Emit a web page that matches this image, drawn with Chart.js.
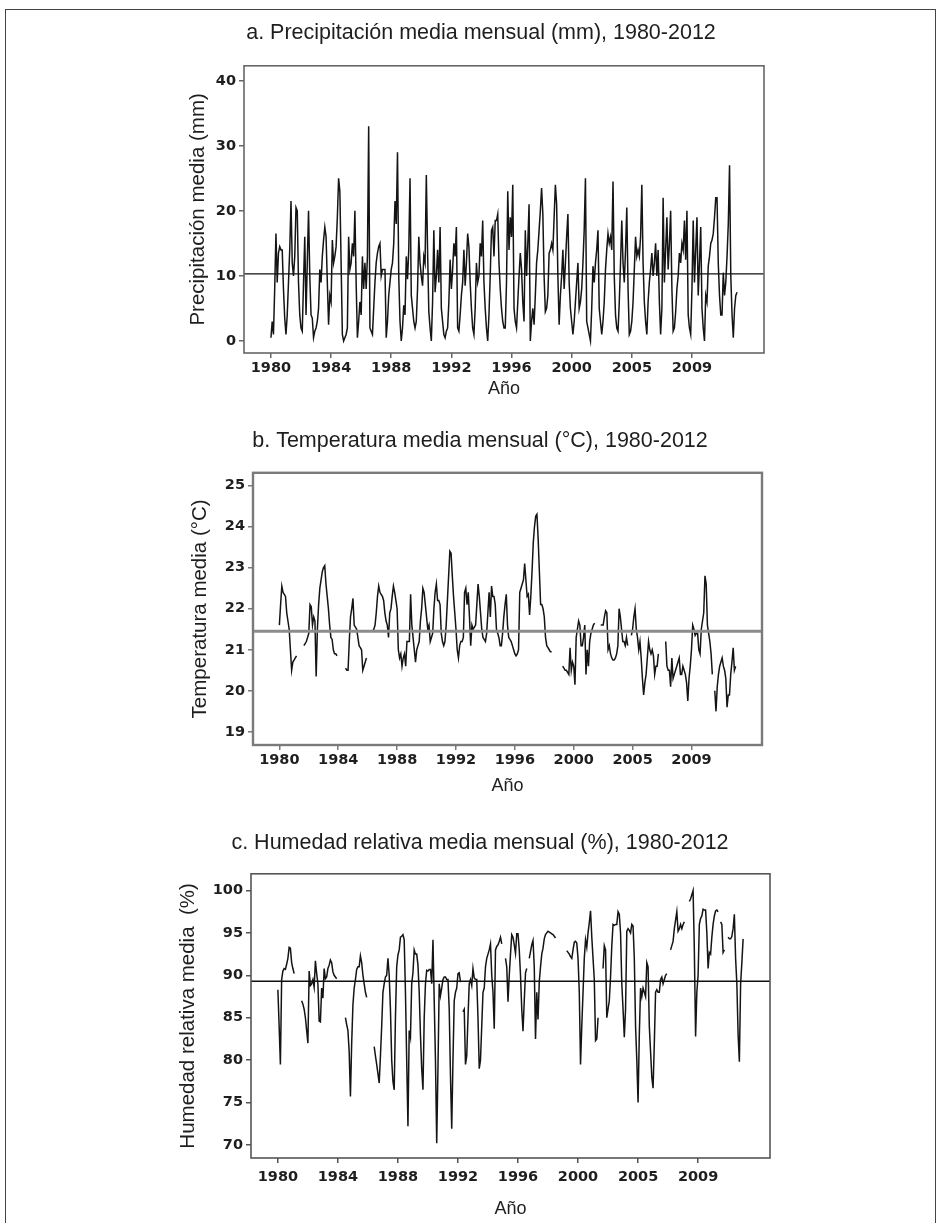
<!DOCTYPE html>
<html lang="es">
<head>
<meta charset="utf-8">
<title>Precipitación, temperatura y humedad relativa mensual, 1980-2012</title>
<script src="https://cdn.jsdelivr.net/npm/chart.js@4.4.1/dist/chart.umd.min.js"></script>
<style>
  html, body { margin: 0; padding: 0; background: #fff; overflow: hidden; }
  #page { position: relative; width: 942px; height: 1223px; overflow: hidden; }
  #border { position: absolute; left: 5px; top: 9px; width: 929px; height: 1240px; border: 1px solid #444; }
  canvas { position: absolute; left: 0; }
</style>
</head>
<body>
<div id="page">
  <div id="border"></div>
  <canvas id="chart-a" width="960" height="405" style="top:0px"></canvas>
  <canvas id="chart-b" width="960" height="410" style="top:405px"></canvas>
  <canvas id="chart-c" width="960" height="408" style="top:815px"></canvas>
</div>
<script>
// monthly series, one value per month from Jan 1980 (rows of 12), null = missing
const PRECIP = [
  0.5, 3.0, 1.0, 8.0, 16.5, 9.0, 13.5, 14.5, 14.0, 14.0, 8.0, 3.5,
  1.0, 4.0, 9.0, 14.0, 21.5, 12.0, 10.0, 13.0, 20.5, 20.0, 9.0, 4.0,
  2.0, 1.5, 9.0, 16.0, 4.0, 12.0, 20.0, 10.0, 4.0, 3.5, 0.5, 1.5,
  2.0, 3.0, 5.0, 11.0, 9.0, 13.0, 15.5, 17.5, 16.0, 9.0, 2.5, 7.0,
  6.0, 15.5, 12.0, 13.0, 14.5, 19.0, 25.0, 23.0, 12.0, 1.0, 0.0, 0.5,
  1.0, 2.0, 16.0, 11.0, 12.0, 15.0, 13.0, 20.0, 9.0, 0.5, 3.0, 6.0,
  4.0, 13.0, 8.0, 12.0, 8.0, 13.0, 33.0, 2.0, 1.5, 1.0, 5.0, 9.0,
  12.0, 13.5, 14.5, 15.0, 10.0, 11.0, 11.0, 11.0, 0.5, 3.0, 7.0, 9.0,
  11.0, 12.0, 15.0, 21.5, 18.0, 29.0, 10.0, 3.0, 0.0, 2.0, 5.5, 4.0,
  13.0, 9.5, 14.0, 25.0, 7.0, 5.0, 3.0, 2.0, 3.0, 8.0, 16.0, 12.0,
  10.0, 8.5, 13.0, 12.0, 25.5, 14.0, 4.5, 2.0, 0.0, 6.0, 17.0, 7.5,
  10.0, 14.0, 9.0, 17.5, 5.0, 3.0, 1.0, 0.5, 1.5, 2.0, 6.0, 12.5,
  8.0, 11.0, 15.0, 13.0, 17.5, 2.0, 1.5, 4.0, 7.0, 9.0, 14.0, 8.5,
  12.0, 16.5, 14.5, 9.0, 5.0, 2.0, 1.0, 5.0, 12.0, 9.0, 10.0, 15.0,
  13.0, 18.5, 9.0, 5.0, 2.0, 0.0, 4.0, 10.0, 17.0, 17.5, 13.0, 18.5,
  18.5, 19.5, 12.0, 8.0, 5.0, 3.0, 2.0, 2.0, 9.0, 23.0, 14.0, 19.0,
  16.0, 24.0, 5.0, 3.0, 2.0, 6.0, 10.0, 13.5, 11.0, 6.0, 3.0, 17.0,
  10.0, 15.0, 21.0, 0.0, 3.0, 5.0, 2.5, 7.0, 12.0, 14.0, 17.0, 20.0,
  23.5, 19.5, 10.0, 4.5, 5.0, 7.0, 13.5, 14.0, 15.0, 14.0, 19.0, 24.0,
  21.0, 10.0, 2.5, 7.0, 10.0, 14.0, 8.0, 12.0, 16.0, 19.5, 9.0, 5.0,
  3.0, 1.0, 3.0, 6.0, 9.0, 12.0, 5.0, 6.0, 8.0, 12.0, 17.0, 25.0,
  3.0, 2.0, 1.0, 0.0, 5.0, 11.5, 9.0, 12.0, 14.0, 17.0, 5.0, 3.0,
  1.0, 3.0, 6.0, 11.0, 14.0, 16.5, 15.0, 16.0, 14.0, 24.5, 10.0, 4.0,
  2.0, 1.5, 6.0, 12.0, 18.5, 12.0, 9.0, 14.0, 20.5, 8.0, 1.0, 1.5,
  3.0, 6.0, 11.0, 16.0, 13.0, 14.0, 13.0, 16.0, 24.0, 12.0, 6.0, 3.0,
  1.0, 6.0, 9.0, 11.0, 13.5, 10.0, 12.0, 15.0, 10.0, 14.0, 6.0, 1.0,
  5.0, 22.0, 9.0, 14.0, 19.0, 11.0, 15.0, 20.0, 8.0, 1.5, 2.0, 4.5,
  8.0, 10.0, 13.5, 12.0, 15.0, 14.0, 18.5, 12.5, 20.0, 4.0, 2.0, 1.0,
  8.0, 18.5, 9.0, 14.0, 19.0, 7.0, 12.0, 17.5, 5.0, 2.0, 0.0, 7.0,
  6.0, 11.5, 13.0, 15.0, 15.5, 16.5, 19.0, 22.0, 22.0, 12.0, 7.0, 4.0,
  4.0, 10.5, 7.0, 9.0, 13.0, 18.0, 27.0, 10.0, 4.0, 0.5, 5.0, 7.0,
  7.5
];

const TEMP = [
  21.6, 22.1, 22.55, 22.4, 22.35, 22.3, 21.9, 21.7, 21.5, 21.0, 20.5, 20.7,
  20.75, 20.8, 20.85, null, null, null, null, null, 21.1, 21.15, 21.2, 21.3,
  21.4, 22.1, 22.05, 21.6, 21.8, 21.7, 20.35, 21.5, 22.1, 22.5, 22.7, 22.9,
  23.0, 23.05, 22.6, 22.3, 22.0, 21.6, 21.3, 21.25, 21.0, 20.9, 20.9, 20.85,
  null, null, null, null, null, null, 20.55, 20.5, 20.5, 21.2, 21.8, 22.0,
  22.25, 21.6, 21.55, 21.5, 21.3, 21.1, 21.05, 21.0, 20.5, 20.6, 20.7, 20.8,
  null, null, null, null, 21.45, 21.5, 21.6, 21.9, 22.3, 22.55, 22.4, 22.35,
  22.3, 22.2, 21.9, 21.7, 21.6, 21.3, 21.9, 22.0, 22.3, 22.55, 22.4, 22.2,
  22.0, 21.0, 20.8, 20.9, 20.6, 20.8, 20.9, 20.6, 21.2, 21.2, 21.2, 22.35,
  21.6, 21.3, 21.0, 20.7, 21.0, 21.1, 21.2, 21.7, 22.0, 22.5, 22.4, 22.1,
  21.8, 21.5, 21.6, 21.2, 21.3, 21.4, 22.0, 22.4, 22.6, 22.2, 22.2, 22.1,
  21.4, 21.2, 21.1, 21.2, 21.6, 22.2, 22.8, 23.4, 23.35, 22.8, 22.3, 21.9,
  21.5, 21.0, 20.8, 21.1, 21.2, 21.2, 21.3, 22.4, 22.5, 22.1, 22.4, 21.8,
  21.1, 21.6, 21.5, 21.55, 21.6, 22.1, 22.6, 22.3, 21.9, 21.5, 21.3, 21.25,
  21.2, 21.4, 21.9, 22.4, 21.8, 22.55, 22.3, 22.3, 22.1, 21.5, 21.4, 21.3,
  21.1, 21.1, 21.4, 21.8, 22.1, 22.35, 21.6, 21.3, 21.25, 21.2, 21.1, 21.0,
  20.9, 20.85, 20.9, 21.0, 22.4, 22.5, 22.6, 22.7, 23.1, 22.7, 22.3, 22.35,
  21.85, 22.3, 22.9, 23.6, 24.0, 24.25, 24.3, 23.7, 22.9, 22.1, 22.1, 22.0,
  21.8, 21.3, 21.1, 21.05, 21.0, 20.95, 20.95, null, null, null, null, null,
  null, null, null, 20.6, 20.55, 20.5, 20.5, 20.45, 20.4, 21.05, 20.5, 20.7,
  20.6, 20.15, 21.3, 21.5, 21.7, 21.6, 21.1, 21.1, 21.3, 21.6, 20.4, 21.0,
  20.6, 21.2, 21.4, 21.5, 21.6, 21.65, null, null, null, null, 21.6, 21.6,
  21.6, 21.8, 21.95, 21.9, 21.0, 21.1, 20.9, 20.8, 20.75, 20.75, 20.8, 20.9,
  21.1, 22.0, 21.8, 21.5, 21.2, 21.2, 21.1, 21.3, 21.1, null, null, 21.35,
  21.5, 21.8, 22.0, 21.5, 21.3, 21.0, 21.2, 20.8, 20.3, 19.9, 20.2, 20.4,
  20.8, 21.2, 21.0, 20.9, 21.0, 20.85, 20.4, 20.6, 20.6, 20.9, null, null,
  null, null, null, 21.2, 20.6, 20.5, 20.5, 20.1, 20.8, 20.3, 20.4, 20.5,
  20.6, 20.7, 20.8, 20.4, 20.4, 20.6, 20.5, 20.4, 20.2, 19.75, 20.3, 20.6,
  21.0, 21.6, 21.5, 21.35, 21.4, 21.4, 21.0, 20.9, 21.5, 21.7, 21.9, 22.8,
  22.6, 21.6, 21.4, 21.2, 20.9, 20.4, null, 20.0, 19.5, 20.1, 20.4, 20.6,
  20.7, 20.8, 20.6, 20.5, 20.3, 19.6, 19.9, 19.9, 20.4, 20.7, 21.05, 20.5,
  20.6
];

const HUMID = [
  88.3, 84.0, 79.5, 89.5, 90.5, 90.8, 90.7, 91.3, 92.0, 93.3, 93.2, 91.5,
  90.8, 90.2, null, null, null, null, null, 87.0, 86.6, 86.0, 85.0, 83.5,
  82.0, 90.5, 88.8, 89.0, 89.5, 88.6, 91.7, 90.2, 89.0, 84.6, 84.5, 88.5,
  87.3, 90.8, 89.6, 89.8, 90.8, 91.2, 91.8, 91.5, 90.4, 90.0, 89.8, 89.6,
  null, null, null, null, null, null, 85.0, 84.2, 83.5, 81.0, 75.7, 82.0,
  86.5, 88.5, 89.5, 90.7, 91.0, 91.0, 92.3, 91.5, 90.0, 89.0, 88.0, 87.4,
  null, null, null, null, null, 81.6, 80.5, 79.5, 78.4, 77.3, 80.5, 84.0,
  88.0, 89.0, 89.8, 90.0, 92.0, 90.0, 86.0, 80.0, 77.5, 76.5, 85.0, 91.0,
  92.4, 93.0, 94.5, 94.6, 94.8, 94.2, 88.0, 80.0, 72.2, 83.5, 82.7, 89.0,
  90.3, 93.0, 92.5, 92.5, 91.2, 88.0, 83.0, 79.0, 76.5, 85.0, 89.0, 90.6,
  90.5, 90.7, 90.7, 89.0, 94.2, 87.0, 80.0, 70.2, 79.0, 89.0, 87.6, 88.5,
  89.5, 89.8, 89.8, 89.5, 89.5, 86.0, 78.2, 71.9, 80.0, 87.0, 88.0, 88.5,
  90.2, 90.3, 89.2, null, 85.7, 86.0, 79.5, 80.5, 85.0, 89.0, 89.5, 88.8,
  90.8, 89.7, 89.5, 89.5, 85.0, 79.0, 80.0, 84.0, 88.0, 88.5, 91.0, 92.0,
  92.5, 93.0, 93.7, 90.0, 88.0, 83.7, 93.0, 93.4, 93.6, 94.0, 94.5, 93.7,
  null, null, 92.0, 91.0, 86.9, 90.0, 92.5, 94.8, 94.5, 93.6, 92.6, 94.9,
  94.9, 93.0, 90.0, 86.0, 83.4, 87.0, 90.3, 90.8, null, 92.0, 92.8, 93.6,
  94.1, 91.0, 82.5, 88.0, 84.8, 89.2, 91.0, 92.5, 93.2, 94.3, 94.8, 95.0,
  95.2, 95.1, 95.0, 94.9, 94.8, 94.6, 94.4, null, null, null, null, null,
  null, null, null, 92.9, 92.7, 92.5, 92.2, 92.0, 93.0, 93.9, 94.0, 93.8,
  92.0, 88.0, 79.5, 84.0, 88.0, 92.0, 94.2, 93.3, 95.0, 96.2, 97.6, 94.5,
  92.0, 89.5, 82.3, 82.5, 85.0, null, null, null, 90.8, 93.5, 93.0, 85.0,
  86.0, 87.0, 89.8, 93.5, 96.0, 95.9, 96.0, 96.0, 97.5, 97.2, 95.0, 89.0,
  86.0, 82.7, 86.0, 95.2, 95.5, 95.3, 95.0, 96.0, 95.8, 92.0, 84.0, 80.0,
  75.0, 83.0, 88.5, 87.5, 88.5, 88.0, 87.5, 91.5, 91.0, 84.0, 81.0, 78.0,
  76.7, 82.0, 88.0, 88.3, 88.0, 88.0, 89.5, 89.8, 89.0, 89.5, 90.0, 90.2,
  null, null, 93.0, 93.5, 94.0, 95.5, 96.5, 97.5, 95.2, 95.5, 96.0, 95.5,
  96.0, 96.3, null, null, null, 98.7, 99.0, 99.5, 100.0, 93.0, 82.8, 88.0,
  90.0, 96.0, 96.7, 97.0, 97.8, 97.7, 97.7, 95.0, 90.8, 92.7, 92.5, 94.5,
  96.0, 97.0, 97.6, 97.7, 97.5, null, 96.3, 96.0, 92.7, 93.0, null, null,
  94.5, 94.3, 94.3, 94.6, 95.5, 97.2, 92.0, 89.0, 83.0, 79.8, 89.0, 91.5,
  94.3
];

// horizontal reference lines (series means)
const MEAN_PRECIP = 10.3;
const MEAN_TEMP = 21.45;
const MEAN_HUMID = 89.3;

// x axis: month index, labelled every 48 months
const X_MIN = -21.5;
const X_MAX = 393.5;
const X_TICKS = [0, 48, 96, 144, 192, 240, 288, 336];
const X_LABELS = ["1980", "1984", "1988", "1992", "1996", "2000", "2005", "2009"];

const Y_TICKS_PRECIP = [0, 10, 20, 30, 40];
const Y_TICKS_TEMP = [19, 20, 21, 22, 23, 24, 25];
const Y_TICKS_HUMID = [70, 75, 80, 85, 90, 95, 100];

const SANS = "'Liberation Sans', Arial, sans-serif";
const TEXT = "#1e1e1e";
const TICK_FONT = { family: "'DejaVu Sans', sans-serif", size: 14.5, weight: "bold" };

/** Box around the plotting area (all four sides) */
const framePlugin = {
  id: "frame",
  afterDatasetsDraw(chart, args, opts) {
    const { ctx, chartArea: a } = chart;
    ctx.save();
    ctx.strokeStyle = opts.color;
    ctx.lineWidth = opts.width;
    ctx.strokeRect(a.left, a.top, a.right - a.left, a.bottom - a.top);
    ctx.restore();
  },
};
Chart.register(framePlugin);

function makePanel(id, cfg) {
  return new Chart(document.getElementById(id), {
    type: "line",
    data: {
      datasets: [
        {
          data: [{ x: X_MIN, y: cfg.mean }, { x: X_MAX, y: cfg.mean }],
          borderColor: cfg.meanColor,
          borderWidth: cfg.meanWidth,
          pointRadius: 0,
        },
        {
          data: cfg.values.map((v, i) => ({ x: i, y: v })),
          borderColor: "#141414",
          borderWidth: 1.5,
          pointRadius: 0,
          tension: 0,
          spanGaps: false,
        },
      ],
    },
    options: {
      responsive: false,
      animation: false,
      events: [],
      layout: { padding: cfg.pad },
      plugins: {
        legend: { display: false },
        tooltip: { enabled: false },
        title: {
          display: true,
          text: cfg.title,
          color: TEXT,
          font: { family: SANS, size: 21.5, weight: "normal" },
          padding: cfg.titlePad,
        },
        frame: { color: cfg.frameColor, width: cfg.frameWidth },
      },
      scales: {
        x: {
          type: "linear",
          min: X_MIN,
          max: X_MAX,
          afterBuildTicks: s => { s.ticks = X_TICKS.map(v => ({ value: v })); },
          afterFit: s => { s.height = cfg.xHeight; },
          ticks: {
            callback: (v, i) => X_LABELS[i],
            autoSkip: false,
            maxRotation: 0,
            padding: cfg.xTickPad,
            color: TEXT,
            font: TICK_FONT,
          },
          grid: { drawOnChartArea: false, tickLength: 5, color: cfg.frameColor, lineWidth: 1.5 },
          border: { display: false },
          title: {
            display: true,
            text: "Año",
            color: TEXT,
            font: { family: SANS, size: 18 },
            padding: { top: 0, bottom: cfg.xTitlePad },
          },
        },
        y: {
          type: "linear",
          min: cfg.yMin,
          max: cfg.yMax,
          afterBuildTicks: s => { s.ticks = cfg.yTicks.map(v => ({ value: v })); },
          afterFit: s => { s.width = cfg.yWidth; },
          ticks: { padding: 3, color: TEXT, font: TICK_FONT },
          grid: { drawOnChartArea: false, tickLength: 5, color: cfg.frameColor, lineWidth: 1.5 },
          border: { display: false },
          title: {
            display: true,
            text: cfg.yTitle,
            color: TEXT,
            font: { family: SANS, size: 20.5 },
            // negative offset: axis title sits left of the padded area
            padding: { top: cfg.yTitlePad, bottom: 0 },
          },
        },
      },
    },
  });
}

makePanel("chart-a", {
  values: PRECIP, mean: MEAN_PRECIP, meanColor: "#111", meanWidth: 1.3,
  title: "a. Precipitación media mensual (mm), 1980-2012",
  yTitle: "Precipitación media (mm)",
  yMin: -1.85, yMax: 42.3, yTicks: Y_TICKS_PRECIP,
  pad: { left: 198, right: 196, top: 0, bottom: 0 },
  titlePad: { top: 20, bottom: 20 },
  yWidth: 46, yTitlePad: -12,
  xHeight: 52, xTickPad: 2, xTitlePad: 5,
  frameColor: "#666", frameWidth: 1.6,
});

makePanel("chart-b", {
  values: TEMP, mean: MEAN_TEMP, meanColor: "#8c8c8c", meanWidth: 3,
  title: "b. Temperatura media mensual (°C), 1980-2012",
  yTitle: "Temperatura media (°C)",
  yMin: 18.68, yMax: 25.31, yTicks: Y_TICKS_TEMP,
  pad: { left: 198, right: 198, top: 0, bottom: 0 },
  titlePad: { top: 23, bottom: 19 },
  yWidth: 55, yTitlePad: -10,
  xHeight: 70, xTickPad: 2, xTitlePad: 18,
  frameColor: "#7a7a7a", frameWidth: 2.4,
});

makePanel("chart-c", {
  values: HUMID, mean: MEAN_HUMID, meanColor: "#111", meanWidth: 1.3,
  title: "c. Humedad relativa media mensual (%), 1980-2012",
  yTitle: "Humedad relativa media  (%)",
  yMin: 68.46, yMax: 101.97, yTicks: Y_TICKS_HUMID,
  pad: { left: 190, right: 190, top: 0, bottom: 0 },
  titlePad: { top: 15, bottom: 18 },
  yWidth: 61, yTitlePad: -14,
  xHeight: 65, xTickPad: 6, xTitlePad: 3,
  frameColor: "#555", frameWidth: 1.6,
});
</script>
</body>
</html>
